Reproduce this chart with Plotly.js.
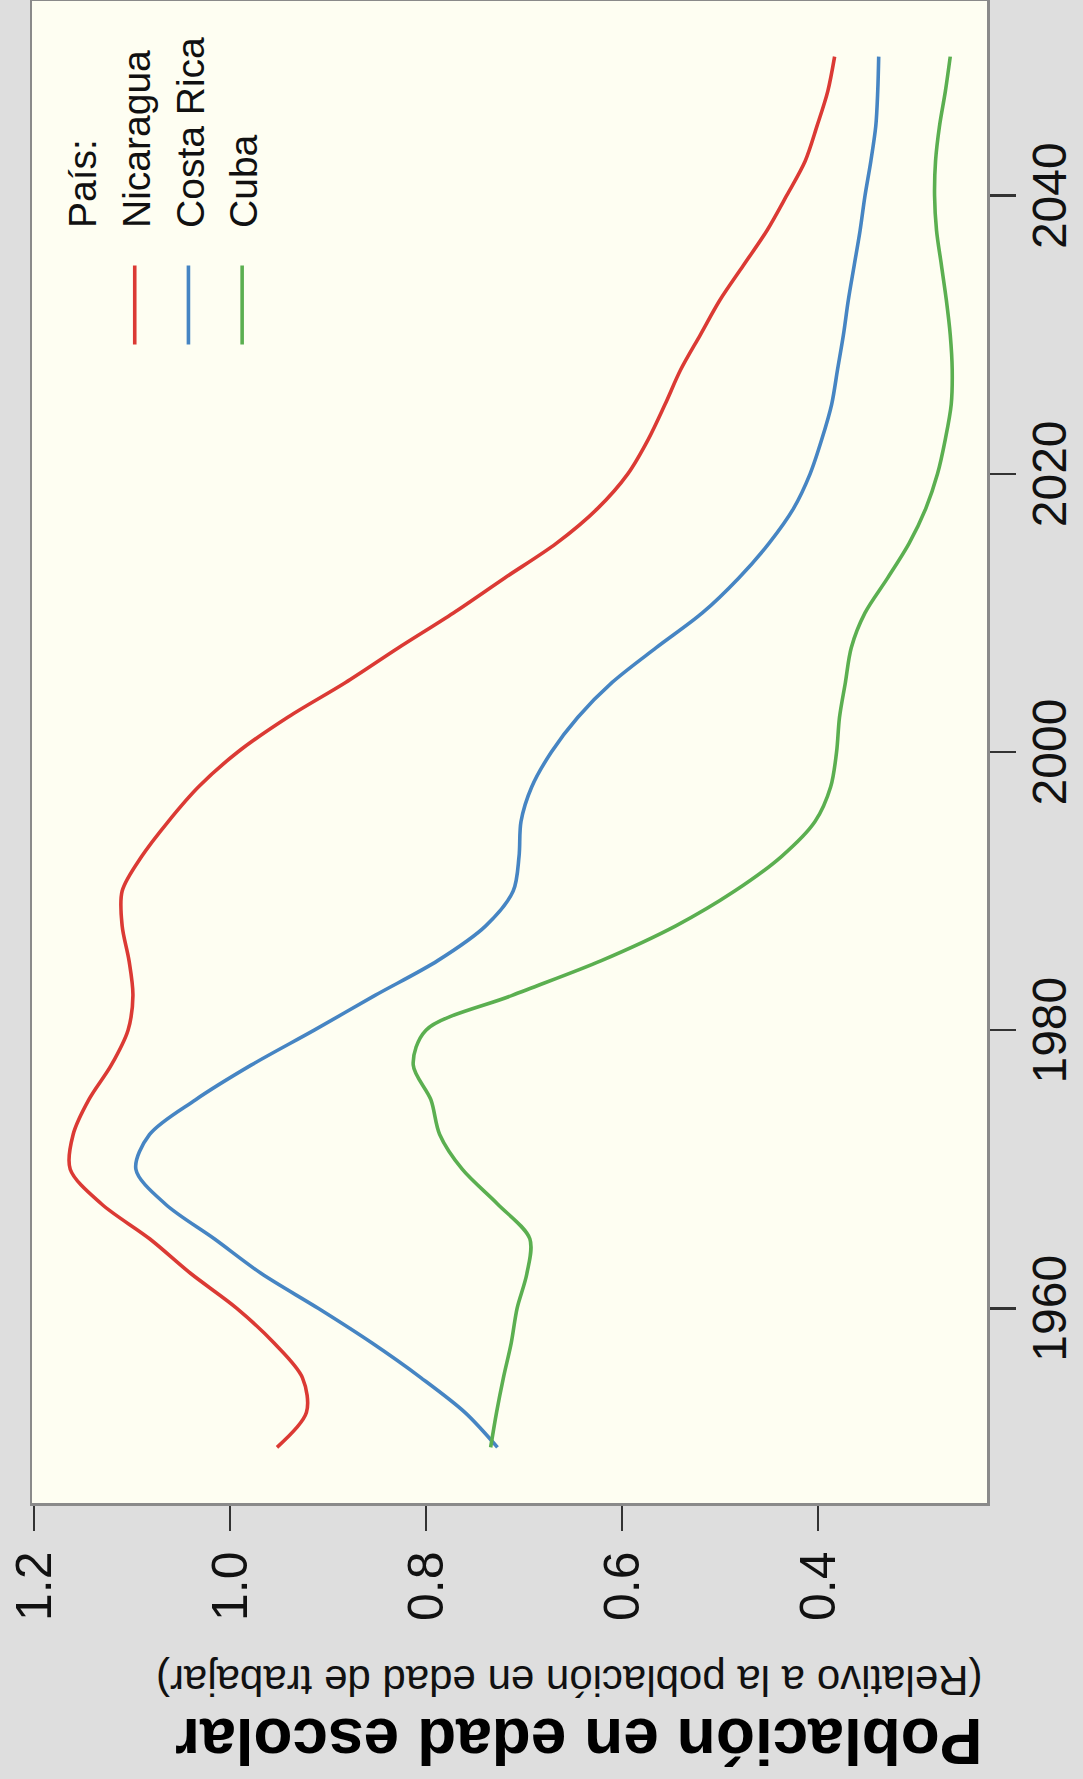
<!DOCTYPE html>
<html><head><meta charset="utf-8">
<script src="https://cdn.plot.ly/plotly-3.0.1.min.js"></script>
<style>
html,body{margin:0;padding:0;width:1083px;height:1779px;overflow:hidden;background:#DEDEDE;}
#chart{position:absolute;left:0;top:0;width:1779px;height:1083px;transform-origin:0 0;transform:translateY(1779px) rotate(-90deg);}
</style></head><body>
<div id="chart"></div>
<script>
const years = [1950,1952.5,1955,1957.5,1960,1962.5,1965,1967.5,1970,1972.5,1975,1977.5,1980,1982.5,1985,1987.5,1990,1992.5,1995,1997.5,2000,2002.5,2005,2007.5,2010,2012.5,2015,2017.5,2020,2022.5,2025,2027.5,2030,2032.5,2035,2037.5,2040,2042.5,2045,2047.5,2050];
const nicaragua = [0.952,0.922,0.926,0.955,0.993,1.040,1.082,1.131,1.163,1.160,1.144,1.121,1.104,1.099,1.103,1.110,1.110,1.090,1.063,1.032,0.992,0.941,0.882,0.828,0.772,0.720,0.667,0.625,0.594,0.573,0.556,0.540,0.520,0.500,0.476,0.452,0.432,0.413,0.401,0.390,0.383];
const costaRica = [0.727,0.760,0.805,0.855,0.910,0.968,1.016,1.066,1.096,1.082,1.035,0.978,0.914,0.852,0.788,0.739,0.711,0.705,0.703,0.692,0.672,0.645,0.610,0.565,0.518,0.481,0.450,0.425,0.408,0.396,0.386,0.380,0.374,0.369,0.363,0.357,0.352,0.346,0.341,0.339,0.338];
const cuba = [0.734,0.728,0.721,0.713,0.707,0.697,0.694,0.727,0.763,0.786,0.795,0.813,0.800,0.712,0.621,0.545,0.485,0.437,0.403,0.387,0.381,0.378,0.372,0.366,0.352,0.329,0.307,0.290,0.278,0.270,0.264,0.263,0.265,0.269,0.274,0.279,0.281,0.280,0.276,0.270,0.265];
const countries = ['Nicaragua','Costa Rica','Cuba'];
const series = [nicaragua, costaRica, cuba];
const colors = ['#DB3A34','#4685C3','#5BAF50'];
const legendHeading = 'País:';
const valueTicks = [0.4,0.6,0.8,1.0,1.2];
const valueTickText = ['0.4','0.6','0.8','1.0','1.2'];
const yearTicks = [1960,1980,2000,2020,2040];
const titleMain = 'Población en edad escolar';
const titleSub = '(Relativo a la población en edad de trabajar)';

const FONT = 'Liberation Sans, Arial, Helvetica, sans-serif';
const pad = '\u00a0\u00a0\u00a0';

const traces = [{
  x:[null], y:[null], mode:'lines', name: pad + legendHeading,
  line:{width:0, color:'rgba(0,0,0,0)'}, hoverinfo:'skip'
}];
countries.forEach((c,i)=>{
  traces.push({
    x: years, y: series[i], mode:'lines', name: pad + c,
    line:{color: colors[i], width:3.6, shape:'spline', smoothing:0.9}
  });
});

const layout = {
  width:1779, height:1083,
  margin:{l:276, r:1, t:32, b:96},
  paper_bgcolor:'#DEDEDE', plot_bgcolor:'#FEFEF2',
  font:{family:FONT, color:'#111', size:40},
  showlegend:true,
  legend:{x:0.768, xanchor:'left', y:0.982, yanchor:'top', bgcolor:'rgba(0,0,0,0)',
          font:{family:FONT, size:39, color:'#111'}, itemwidth:79, tracegroupgap:0},
  xaxis:{range:[1946,2054], tickvals:yearTicks, ticks:'outside', ticklen:26, tickwidth:2.5,
         tickcolor:'#333', showline:true, linecolor:'#8a8a8a', linewidth:2.5, mirror:true,
         showgrid:false, zeroline:false, tickfont:{size:48, family:FONT, color:'#111'},
         ticklabelstandoff:-7},
  yaxis:{range:[0.2275,1.202], tickvals:valueTicks, ticktext:valueTickText, ticks:'outside', ticklen:25,
         tickwidth:2.5, tickcolor:'#333', showline:true, linecolor:'#8a8a8a', linewidth:2.5, mirror:true,
         showgrid:false, zeroline:false, tickfont:{size:50, family:FONT, color:'#111'},
         ticklabelstandoff:11},
  annotations:[
    {text:'<b>'+titleMain+'</b>', xref:'paper', yref:'paper', x:0, y:0, xanchor:'center', yanchor:'bottom',
     xshift:-238, yshift:2, textangle:-90, showarrow:false, font:{size:64, family:FONT, color:'#000'}},
    {text:titleSub, xref:'paper', yref:'paper', x:0, y:0, xanchor:'center', yanchor:'bottom',
     xshift:-177, yshift:2, textangle:-90, showarrow:false, font:{size:42, family:FONT, color:'#111'}}
  ]
};
Plotly.newPlot('chart', traces, layout, {displayModeBar:false, staticPlot:true});
</script>
</body></html>
